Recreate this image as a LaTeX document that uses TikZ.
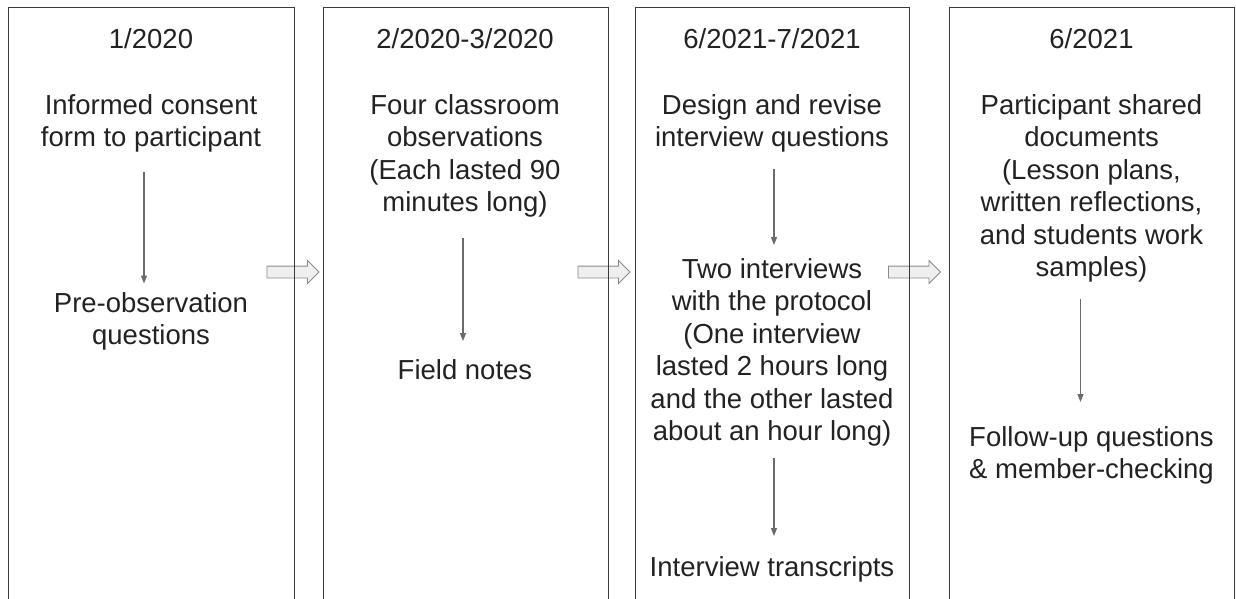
\documentclass[tikz,border=0pt]{standalone}
\usepackage{fontspec}
\setmainfont{Liberation Sans}
\usetikzlibrary{arrows.meta,shapes.arrows}
\definecolor{ink}{HTML}{222222}
\definecolor{boxline}{HTML}{3A3A3A}
\definecolor{flowgray}{HTML}{6B6B6B}
\definecolor{nextfill}{HTML}{EFEFEF}
\definecolor{nextline}{HTML}{8A8A8A}

\begin{document}
\begin{tikzpicture}[x=1pt, y=-1pt,
    stage/.style = {draw=boxline, line width=1.3pt, anchor=north west, minimum height=640pt, inner sep=0pt},
    txt/.style = {anchor=north, align=center, inner sep=0pt, text=ink, font=\fontsize{27.5}{32.5}\selectfont},
    flow/.style = {draw=flowgray, line width=1.2pt, -{Triangle[length=8pt,width=6pt]}},
    next/.style = {single arrow, draw=nextline, fill=nextfill, line width=0.9pt, minimum height=52pt, minimum width=22pt, single arrow head extend=5.5pt, inner xsep=0pt, inner ysep=5.5pt}]

    \useasboundingbox (0,0) rectangle (1236,598);
    \clip (0,0) rectangle (1236,598);

    % arrows between stages
    \node[next] (a12) at (290,272) {};
    \node[next] (a23) at (601,272) {};
    \node[next] (a34) at (911.5,272) {};

    % stages
    \node[stage, minimum width=286pt] (box1) at (8,7) {};
    \node[stage, minimum width=285pt] (box2) at (322.7,7) {};
    \node[stage, minimum width=274pt] (box3) at (635,7) {};
    \node[stage, minimum width=285pt] (box4) at (949,7) {};

    % 1/2020
    \node[txt] (d1) at (151,28.7) {1/2020};
    \node[txt] (c1) at (151,94) {Informed consent\\form to participant};
    \node[txt] (q1) at (151,292) {Pre-observation\\questions};
    \draw[flow, shorten <=19.7pt, shorten >=8.5pt] ([xshift=-7pt]c1.south) -- ([xshift=-7pt]q1.north);

    % 2/2020-3/2020
    \node[txt] (d2) at (465,28.7) {2/2020-3/2020};
    \node[txt] (c2) at (465,94) {Four classroom\\observations\\(Each lasted 90\\minutes long)};
    \node[txt] (f2) at (465,359) {Field notes};
    \draw[flow, shorten <=20pt, shorten >=18pt] ([xshift=-2pt]c2.south) -- ([xshift=-2pt]f2.north);

    % 6/2021-7/2021
    \node[txt] (d3) at (772,28.7) {6/2021-7/2021};
    \node[txt] (c3) at (772,94) {Design and revise\\interview questions};
    \node[txt] (t3) at (772,258) {Two interviews\\with the protocol\\(One interview\\lasted 2 hours long\\and the other lasted\\about an hour long)};
    \node[txt] (r3) at (772,556.6) {Interview transcripts};
    \draw[flow, shorten <=16.3pt, shorten >=13pt] ([xshift=2pt]c3.south) -- ([xshift=2pt]t3.north);
    \draw[flow, shorten <=11.7pt, shorten >=20.6pt] ([xshift=2pt]t3.south) -- ([xshift=2pt]r3.north);

    % 6/2021
    \node[txt] (d4) at (1091.5,28.7) {6/2021};
    \node[txt] (c4) at (1091.5,94) {Participant shared\\documents\\(Lesson plans,\\written reflections,\\and students work\\samples)};
    \node[txt] (m4) at (1091.5,426) {Follow-up questions\\\& member-checking};
    \draw[flow, shorten <=16.7pt, shorten >=24pt] ([xshift=-11pt]c4.south) -- ([xshift=-11pt]m4.north);

\end{tikzpicture}
\end{document}
